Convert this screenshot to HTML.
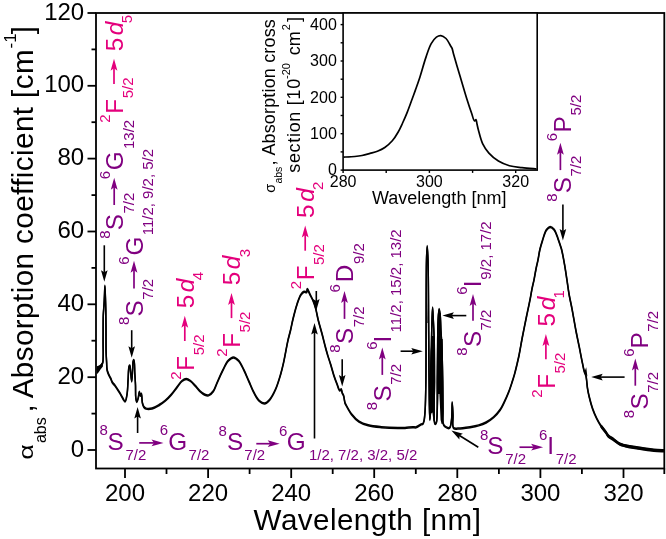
<!DOCTYPE html>
<html><head><meta charset="utf-8"><title>Absorption</title>
<style>html,body{margin:0;padding:0;background:#fff;overflow:hidden}svg{display:block;will-change:transform}</style>
</head><body>
<svg width="666" height="539" viewBox="0 0 666 539">
<g font-family='"Liberation Sans", sans-serif'>
<rect x="96" y="13" width="568.3" height="455.5" fill="none" stroke="#000" stroke-width="1.8"/>
<line x1="87.5" y1="450.0" x2="96" y2="450.0" stroke="#000" stroke-width="1.8"/>
<text x="84.2" y="456.6" font-size="24" text-anchor="end">0</text>
<line x1="91.5" y1="413.6" x2="96" y2="413.6" stroke="#000" stroke-width="1.8"/>
<line x1="87.5" y1="377.2" x2="96" y2="377.2" stroke="#000" stroke-width="1.8"/>
<text x="84.2" y="383.8" font-size="24" text-anchor="end">20</text>
<line x1="91.5" y1="340.7" x2="96" y2="340.7" stroke="#000" stroke-width="1.8"/>
<line x1="87.5" y1="304.3" x2="96" y2="304.3" stroke="#000" stroke-width="1.8"/>
<text x="84.2" y="310.9" font-size="24" text-anchor="end">40</text>
<line x1="91.5" y1="267.9" x2="96" y2="267.9" stroke="#000" stroke-width="1.8"/>
<line x1="87.5" y1="231.5" x2="96" y2="231.5" stroke="#000" stroke-width="1.8"/>
<text x="84.2" y="238.1" font-size="24" text-anchor="end">60</text>
<line x1="91.5" y1="195.1" x2="96" y2="195.1" stroke="#000" stroke-width="1.8"/>
<line x1="87.5" y1="158.6" x2="96" y2="158.6" stroke="#000" stroke-width="1.8"/>
<text x="84.2" y="165.2" font-size="24" text-anchor="end">80</text>
<line x1="91.5" y1="122.2" x2="96" y2="122.2" stroke="#000" stroke-width="1.8"/>
<line x1="87.5" y1="85.8" x2="96" y2="85.8" stroke="#000" stroke-width="1.8"/>
<text x="84.2" y="92.4" font-size="24" text-anchor="end">100</text>
<line x1="91.5" y1="49.4" x2="96" y2="49.4" stroke="#000" stroke-width="1.8"/>
<line x1="87.5" y1="13.0" x2="96" y2="13.0" stroke="#000" stroke-width="1.8"/>
<text x="84.2" y="19.6" font-size="24" text-anchor="end">120</text>
<line x1="125.0" y1="468.5" x2="125.0" y2="478.0" stroke="#000" stroke-width="1.8"/>
<text x="125.0" y="501.3" font-size="24" text-anchor="middle">200</text>
<line x1="166.5" y1="468.5" x2="166.5" y2="474.0" stroke="#000" stroke-width="1.8"/>
<line x1="208.1" y1="468.5" x2="208.1" y2="478.0" stroke="#000" stroke-width="1.8"/>
<text x="208.1" y="501.3" font-size="24" text-anchor="middle">220</text>
<line x1="249.6" y1="468.5" x2="249.6" y2="474.0" stroke="#000" stroke-width="1.8"/>
<line x1="291.2" y1="468.5" x2="291.2" y2="478.0" stroke="#000" stroke-width="1.8"/>
<text x="291.2" y="501.3" font-size="24" text-anchor="middle">240</text>
<line x1="332.7" y1="468.5" x2="332.7" y2="474.0" stroke="#000" stroke-width="1.8"/>
<line x1="374.2" y1="468.5" x2="374.2" y2="478.0" stroke="#000" stroke-width="1.8"/>
<text x="374.2" y="501.3" font-size="24" text-anchor="middle">260</text>
<line x1="415.8" y1="468.5" x2="415.8" y2="474.0" stroke="#000" stroke-width="1.8"/>
<line x1="457.3" y1="468.5" x2="457.3" y2="478.0" stroke="#000" stroke-width="1.8"/>
<text x="457.3" y="501.3" font-size="24" text-anchor="middle">280</text>
<line x1="498.9" y1="468.5" x2="498.9" y2="474.0" stroke="#000" stroke-width="1.8"/>
<line x1="540.4" y1="468.5" x2="540.4" y2="478.0" stroke="#000" stroke-width="1.8"/>
<text x="540.4" y="501.3" font-size="24" text-anchor="middle">300</text>
<line x1="581.9" y1="468.5" x2="581.9" y2="474.0" stroke="#000" stroke-width="1.8"/>
<line x1="623.5" y1="468.5" x2="623.5" y2="478.0" stroke="#000" stroke-width="1.8"/>
<text x="623.5" y="501.3" font-size="24" text-anchor="middle">320</text>
<line x1="664.3" y1="468.5" x2="664.3" y2="474.0" stroke="#000" stroke-width="1.8"/>
<text x="253.6" y="529.6" font-size="29.6" letter-spacing="0.45">Wavelength [nm]</text>
<path fill="none" stroke="#000" stroke-width="1.5" stroke-linejoin="round" transform="translate(0,-0.5)" d="M96.80,370.00 C97.08,369.70 97.90,368.80 98.50,368.20 C99.13,367.57 99.92,367.00 100.50,366.30 C101.08,365.60 101.59,364.69 102.00,364.00 C102.32,363.45 102.58,363.34 102.80,362.50 C103.58,359.46 103.02,347.70 103.10,340.00 C103.19,331.89 103.05,321.45 103.30,315.00 C103.46,310.91 103.80,308.33 104.00,305.00 C104.20,301.67 104.35,298.27 104.50,295.00 C104.65,291.84 104.76,285.70 104.90,285.70 C105.06,285.70 105.25,293.10 105.40,297.00 C105.56,301.18 105.70,305.20 105.80,310.00 C105.92,315.95 105.95,323.17 106.00,330.00 C106.05,337.16 105.94,346.10 106.10,352.00 C106.21,355.98 106.42,358.85 106.60,362.00 C106.76,364.82 106.64,367.69 107.10,370.00 C107.47,371.86 108.15,373.43 108.80,374.90 C109.37,376.19 110.11,377.17 110.70,378.40 C111.32,379.70 111.66,381.28 112.40,382.50 C113.11,383.67 114.02,384.27 115.00,385.60 C116.57,387.73 118.84,391.54 120.60,394.30 C122.19,396.78 124.01,401.57 125.10,401.40 C126.15,401.24 126.61,396.76 127.10,393.80 C127.76,389.81 127.76,384.18 128.10,379.50 C128.43,374.99 128.36,367.82 129.10,366.20 C129.30,365.76 129.60,365.43 129.80,365.50 C130.31,365.67 130.32,369.63 130.60,372.00 C130.94,374.87 131.38,381.51 131.70,381.50 C132.05,381.49 132.34,373.59 132.60,370.00 C132.83,366.84 132.63,362.55 133.20,361.10 C133.41,360.55 133.78,360.03 134.00,360.10 C134.72,360.33 134.54,369.12 134.80,373.40 C135.04,377.40 135.33,381.03 135.50,385.00 C135.67,389.18 135.39,394.84 135.80,397.90 C136.03,399.63 136.39,401.88 136.80,401.90 C137.22,401.92 137.90,399.40 138.30,397.90 C138.78,396.08 138.90,391.72 139.30,391.70 C139.62,391.68 139.98,395.76 140.40,395.80 C140.71,395.83 141.12,393.75 141.40,393.80 C141.96,393.90 141.83,400.59 142.40,403.00 C142.79,404.64 143.18,406.03 143.90,407.00 C144.46,407.76 145.05,408.29 146.00,408.60 C147.43,409.07 149.96,408.99 152.00,408.50 C154.35,407.94 156.96,406.32 159.20,405.00 C161.34,403.74 163.27,402.42 165.20,400.80 C167.28,399.06 169.27,397.00 171.20,394.80 C173.28,392.43 175.30,389.42 177.20,387.00 C178.88,384.86 180.29,382.36 182.00,381.00 C183.33,379.94 184.79,379.01 186.20,379.00 C187.62,378.99 189.11,380.03 190.50,381.00 C192.16,382.16 193.74,384.12 195.30,385.80 C196.91,387.52 198.33,389.66 200.00,391.20 C201.54,392.62 203.31,394.13 204.90,394.80 C206.13,395.32 207.30,395.74 208.50,395.40 C210.09,394.95 212.00,392.95 213.30,391.20 C214.73,389.28 215.25,386.95 216.50,384.20 C218.29,380.28 220.86,374.09 223.00,369.90 C224.75,366.48 226.17,362.93 228.20,360.80 C229.76,359.17 231.67,357.50 233.40,357.50 C235.13,357.50 237.04,359.17 238.60,360.80 C240.63,362.93 242.15,366.63 243.80,369.90 C245.63,373.51 247.26,377.71 249.00,381.60 C250.73,385.48 252.31,389.78 254.20,393.20 C255.82,396.13 257.42,399.24 259.40,401.00 C260.95,402.38 262.84,403.74 264.50,403.60 C266.27,403.45 268.09,401.53 269.70,399.70 C271.89,397.21 273.87,393.16 275.60,389.30 C277.58,384.88 279.24,379.10 280.60,374.50 C281.76,370.56 282.56,367.11 283.40,363.40 C284.23,359.71 284.87,356.01 285.60,352.30 C286.33,348.58 286.97,344.81 287.80,341.10 C288.63,337.38 289.73,333.70 290.60,330.00 C291.46,326.33 292.04,322.89 293.00,319.00 C294.10,314.53 295.47,308.98 296.90,304.70 C298.11,301.09 299.30,297.18 300.80,294.90 C301.78,293.41 302.90,292.02 304.00,291.70 C304.85,291.46 306.04,292.65 306.60,292.30 C307.22,291.91 306.89,289.15 307.30,289.10 C307.85,289.03 308.99,292.47 309.90,294.30 C310.91,296.34 312.16,298.50 313.10,300.80 C314.11,303.25 314.91,305.73 315.70,308.60 C316.64,312.02 317.21,315.99 318.20,320.00 C319.33,324.56 320.95,329.79 322.20,334.50 C323.38,338.95 324.47,343.68 325.50,347.50 C326.31,350.52 326.98,352.88 327.80,355.60 C328.64,358.38 329.58,361.01 330.50,364.00 C331.54,367.39 332.57,371.45 333.70,374.90 C334.74,378.09 335.90,381.24 337.00,384.00 C337.94,386.36 338.88,390.29 339.80,390.50 C340.27,390.61 340.83,389.19 341.20,389.30 C341.73,389.46 341.77,391.87 342.20,393.00 C342.59,394.02 343.20,394.62 343.60,395.80 C344.22,397.61 344.45,401.37 345.00,403.00 C345.31,403.90 345.51,404.10 346.00,405.00 C347.08,406.96 349.32,411.42 351.50,414.20 C353.66,416.95 356.16,419.74 359.00,421.60 C361.75,423.40 364.81,424.38 368.20,425.30 C372.10,426.35 376.58,426.74 381.20,427.20 C386.41,427.72 393.50,428.04 397.90,428.10 C400.76,428.14 402.58,428.04 405.00,427.90 C407.54,427.75 410.75,427.26 412.80,427.20 C414.13,427.16 414.93,427.60 416.10,427.30 C417.65,426.91 419.84,424.90 421.10,424.40 C421.79,424.13 422.35,424.39 422.80,424.00 C423.41,423.47 423.67,422.33 424.00,421.00 C424.59,418.61 424.81,414.99 425.10,410.60 C425.59,403.09 425.73,391.45 425.90,380.00 C426.12,365.37 426.01,348.07 426.10,330.00 C426.20,308.62 426.10,274.42 426.50,260.00 C426.68,253.55 426.95,246.00 427.20,246.00 C427.45,246.00 427.79,253.70 428.00,260.00 C428.44,273.03 428.44,301.78 428.60,320.00 C428.73,335.24 428.78,348.35 428.90,362.00 C429.01,374.98 429.11,389.35 429.30,400.00 C429.44,407.73 429.57,420.00 429.80,420.00 C429.94,420.00 430.15,415.83 430.30,412.00 C430.69,402.24 430.90,376.20 431.20,360.00 C431.47,345.79 431.67,329.54 432.00,320.00 C432.18,314.69 432.38,307.60 432.60,307.60 C432.82,307.60 433.07,315.37 433.30,320.00 C433.60,325.87 433.99,332.19 434.20,340.00 C434.49,351.04 434.40,366.38 434.50,380.00 C434.60,394.22 433.08,421.42 434.80,423.60 C435.04,423.90 435.36,423.91 435.60,423.80 C435.97,423.63 436.26,422.90 436.50,422.00 C437.09,419.80 437.05,414.90 437.20,410.00 C437.44,402.25 437.23,390.00 437.30,380.00 C437.37,370.00 437.47,360.00 437.60,350.00 C437.73,340.00 437.70,327.54 438.10,320.00 C438.35,315.43 438.67,309.02 439.10,309.00 C439.42,308.99 439.92,312.54 440.20,315.00 C440.64,318.86 440.63,325.00 440.90,330.00 C441.17,335.00 441.54,338.95 441.80,345.00 C442.20,354.23 442.50,368.78 442.70,380.00 C442.89,390.38 442.90,401.95 443.00,410.00 C443.07,415.42 442.38,420.80 443.20,423.60 C443.61,425.00 444.09,425.80 445.00,426.50 C446.07,427.33 448.43,428.50 449.50,427.90 C450.91,427.11 451.04,423.19 451.50,420.00 C452.18,415.28 451.92,402.20 452.20,402.20 C452.44,402.20 452.78,410.72 453.00,415.00 C453.22,419.32 451.84,426.18 453.50,428.00 C454.48,429.08 456.14,428.58 458.00,428.60 C461.04,428.62 466.33,427.79 470.00,427.20 C473.14,426.69 475.95,426.22 478.70,425.40 C481.30,424.63 483.70,423.78 486.10,422.50 C488.67,421.13 491.29,419.35 493.60,417.30 C496.01,415.15 498.44,412.32 500.20,409.80 C501.73,407.61 502.56,405.71 503.80,403.20 C505.37,400.01 507.30,395.66 508.70,392.10 C509.96,388.89 510.90,385.90 511.90,382.80 C512.89,379.73 513.85,376.69 514.70,373.60 C515.55,370.52 516.27,367.36 517.00,364.30 C517.70,361.33 518.29,358.94 519.00,355.50 C519.99,350.67 521.05,344.02 522.20,338.00 C523.43,331.55 524.85,324.60 526.20,318.00 C527.52,311.53 529.14,304.23 530.20,298.80 C530.98,294.81 531.43,291.74 532.10,288.40 C532.73,285.29 533.47,282.51 534.10,279.40 C534.77,276.06 535.33,272.35 536.00,269.00 C536.63,265.86 537.37,263.04 538.00,259.90 C538.67,256.55 539.12,252.83 539.90,249.50 C540.64,246.35 541.47,243.51 542.50,240.40 C543.61,237.03 544.76,232.32 546.40,230.00 C547.48,228.47 548.82,226.97 550.10,226.90 C551.36,226.83 552.86,228.14 554.00,229.50 C555.64,231.45 556.78,235.53 557.90,238.40 C558.92,241.01 559.81,243.86 560.50,246.00 C560.99,247.54 561.26,248.23 561.70,250.00 C562.53,253.36 563.73,259.85 564.60,264.80 C565.47,269.75 566.15,274.74 566.90,279.70 C567.65,284.64 568.24,289.58 569.10,294.50 C569.97,299.44 571.08,303.95 572.10,309.30 C573.30,315.62 574.55,323.48 575.80,330.00 C576.92,335.87 578.08,341.13 579.20,346.70 C580.32,352.27 581.54,358.83 582.50,363.40 C583.17,366.59 583.62,369.21 584.30,371.50 C584.82,373.24 585.60,374.44 586.00,376.00 C586.41,377.60 586.47,379.17 586.70,381.00 C586.98,383.22 587.11,385.86 587.50,388.40 C587.92,391.12 588.47,393.78 589.20,396.80 C590.07,400.39 591.20,404.79 592.50,408.50 C593.72,412.00 595.19,415.45 596.70,418.50 C598.05,421.22 599.43,423.64 601.00,426.00 C602.53,428.30 604.68,430.64 606.00,432.50 C606.94,433.83 607.24,434.93 608.30,436.00 C609.60,437.31 611.70,438.24 613.50,439.50 C615.49,440.89 617.25,442.83 619.70,444.00 C622.60,445.39 626.46,446.06 630.00,446.80 C633.68,447.57 637.51,447.95 641.40,448.50 C645.47,449.08 649.95,449.81 653.90,450.20 C657.44,450.55 662.32,450.70 664.00,450.80"/>
<path fill="none" stroke="#000" stroke-width="1.5" stroke-linejoin="round" transform="translate(0,0.5)" d="M96.80,370.00 C97.08,369.70 97.90,368.80 98.50,368.20 C99.13,367.57 99.92,367.00 100.50,366.30 C101.08,365.60 101.59,364.69 102.00,364.00 C102.32,363.45 102.58,363.34 102.80,362.50 C103.58,359.46 103.02,347.70 103.10,340.00 C103.19,331.89 103.05,321.45 103.30,315.00 C103.46,310.91 103.80,308.33 104.00,305.00 C104.20,301.67 104.35,298.27 104.50,295.00 C104.65,291.84 104.76,285.70 104.90,285.70 C105.06,285.70 105.25,293.10 105.40,297.00 C105.56,301.18 105.70,305.20 105.80,310.00 C105.92,315.95 105.95,323.17 106.00,330.00 C106.05,337.16 105.94,346.10 106.10,352.00 C106.21,355.98 106.42,358.85 106.60,362.00 C106.76,364.82 106.64,367.69 107.10,370.00 C107.47,371.86 108.15,373.43 108.80,374.90 C109.37,376.19 110.11,377.17 110.70,378.40 C111.32,379.70 111.66,381.28 112.40,382.50 C113.11,383.67 114.02,384.27 115.00,385.60 C116.57,387.73 118.84,391.54 120.60,394.30 C122.19,396.78 124.01,401.57 125.10,401.40 C126.15,401.24 126.61,396.76 127.10,393.80 C127.76,389.81 127.76,384.18 128.10,379.50 C128.43,374.99 128.36,367.82 129.10,366.20 C129.30,365.76 129.60,365.43 129.80,365.50 C130.31,365.67 130.32,369.63 130.60,372.00 C130.94,374.87 131.38,381.51 131.70,381.50 C132.05,381.49 132.34,373.59 132.60,370.00 C132.83,366.84 132.63,362.55 133.20,361.10 C133.41,360.55 133.78,360.03 134.00,360.10 C134.72,360.33 134.54,369.12 134.80,373.40 C135.04,377.40 135.33,381.03 135.50,385.00 C135.67,389.18 135.39,394.84 135.80,397.90 C136.03,399.63 136.39,401.88 136.80,401.90 C137.22,401.92 137.90,399.40 138.30,397.90 C138.78,396.08 138.90,391.72 139.30,391.70 C139.62,391.68 139.98,395.76 140.40,395.80 C140.71,395.83 141.12,393.75 141.40,393.80 C141.96,393.90 141.83,400.59 142.40,403.00 C142.79,404.64 143.18,406.03 143.90,407.00 C144.46,407.76 145.05,408.29 146.00,408.60 C147.43,409.07 149.96,408.99 152.00,408.50 C154.35,407.94 156.96,406.32 159.20,405.00 C161.34,403.74 163.27,402.42 165.20,400.80 C167.28,399.06 169.27,397.00 171.20,394.80 C173.28,392.43 175.30,389.42 177.20,387.00 C178.88,384.86 180.29,382.36 182.00,381.00 C183.33,379.94 184.79,379.01 186.20,379.00 C187.62,378.99 189.11,380.03 190.50,381.00 C192.16,382.16 193.74,384.12 195.30,385.80 C196.91,387.52 198.33,389.66 200.00,391.20 C201.54,392.62 203.31,394.13 204.90,394.80 C206.13,395.32 207.30,395.74 208.50,395.40 C210.09,394.95 212.00,392.95 213.30,391.20 C214.73,389.28 215.25,386.95 216.50,384.20 C218.29,380.28 220.86,374.09 223.00,369.90 C224.75,366.48 226.17,362.93 228.20,360.80 C229.76,359.17 231.67,357.50 233.40,357.50 C235.13,357.50 237.04,359.17 238.60,360.80 C240.63,362.93 242.15,366.63 243.80,369.90 C245.63,373.51 247.26,377.71 249.00,381.60 C250.73,385.48 252.31,389.78 254.20,393.20 C255.82,396.13 257.42,399.24 259.40,401.00 C260.95,402.38 262.84,403.74 264.50,403.60 C266.27,403.45 268.09,401.53 269.70,399.70 C271.89,397.21 273.87,393.16 275.60,389.30 C277.58,384.88 279.24,379.10 280.60,374.50 C281.76,370.56 282.56,367.11 283.40,363.40 C284.23,359.71 284.87,356.01 285.60,352.30 C286.33,348.58 286.97,344.81 287.80,341.10 C288.63,337.38 289.73,333.70 290.60,330.00 C291.46,326.33 292.04,322.89 293.00,319.00 C294.10,314.53 295.47,308.98 296.90,304.70 C298.11,301.09 299.30,297.18 300.80,294.90 C301.78,293.41 302.90,292.02 304.00,291.70 C304.85,291.46 306.04,292.65 306.60,292.30 C307.22,291.91 306.89,289.15 307.30,289.10 C307.85,289.03 308.99,292.47 309.90,294.30 C310.91,296.34 312.16,298.50 313.10,300.80 C314.11,303.25 314.91,305.73 315.70,308.60 C316.64,312.02 317.21,315.99 318.20,320.00 C319.33,324.56 320.95,329.79 322.20,334.50 C323.38,338.95 324.47,343.68 325.50,347.50 C326.31,350.52 326.98,352.88 327.80,355.60 C328.64,358.38 329.58,361.01 330.50,364.00 C331.54,367.39 332.57,371.45 333.70,374.90 C334.74,378.09 335.90,381.24 337.00,384.00 C337.94,386.36 338.88,390.29 339.80,390.50 C340.27,390.61 340.83,389.19 341.20,389.30 C341.73,389.46 341.77,391.87 342.20,393.00 C342.59,394.02 343.20,394.62 343.60,395.80 C344.22,397.61 344.45,401.37 345.00,403.00 C345.31,403.90 345.51,404.10 346.00,405.00 C347.08,406.96 349.32,411.42 351.50,414.20 C353.66,416.95 356.16,419.74 359.00,421.60 C361.75,423.40 364.81,424.38 368.20,425.30 C372.10,426.35 376.58,426.74 381.20,427.20 C386.41,427.72 393.50,428.04 397.90,428.10 C400.76,428.14 402.58,428.04 405.00,427.90 C407.54,427.75 410.75,427.26 412.80,427.20 C414.13,427.16 414.93,427.60 416.10,427.30 C417.65,426.91 419.84,424.90 421.10,424.40 C421.79,424.13 422.35,424.39 422.80,424.00 C423.41,423.47 423.67,422.33 424.00,421.00 C424.59,418.61 424.81,414.99 425.10,410.60 C425.59,403.09 425.73,391.45 425.90,380.00 C426.12,365.37 426.01,348.07 426.10,330.00 C426.20,308.62 426.10,274.42 426.50,260.00 C426.68,253.55 426.95,246.00 427.20,246.00 C427.45,246.00 427.79,253.70 428.00,260.00 C428.44,273.03 428.44,301.78 428.60,320.00 C428.73,335.24 428.78,348.35 428.90,362.00 C429.01,374.98 429.11,389.35 429.30,400.00 C429.44,407.73 429.57,420.00 429.80,420.00 C429.94,420.00 430.15,415.83 430.30,412.00 C430.69,402.24 430.90,376.20 431.20,360.00 C431.47,345.79 431.67,329.54 432.00,320.00 C432.18,314.69 432.38,307.60 432.60,307.60 C432.82,307.60 433.07,315.37 433.30,320.00 C433.60,325.87 433.99,332.19 434.20,340.00 C434.49,351.04 434.40,366.38 434.50,380.00 C434.60,394.22 433.08,421.42 434.80,423.60 C435.04,423.90 435.36,423.91 435.60,423.80 C435.97,423.63 436.26,422.90 436.50,422.00 C437.09,419.80 437.05,414.90 437.20,410.00 C437.44,402.25 437.23,390.00 437.30,380.00 C437.37,370.00 437.47,360.00 437.60,350.00 C437.73,340.00 437.70,327.54 438.10,320.00 C438.35,315.43 438.67,309.02 439.10,309.00 C439.42,308.99 439.92,312.54 440.20,315.00 C440.64,318.86 440.63,325.00 440.90,330.00 C441.17,335.00 441.54,338.95 441.80,345.00 C442.20,354.23 442.50,368.78 442.70,380.00 C442.89,390.38 442.90,401.95 443.00,410.00 C443.07,415.42 442.38,420.80 443.20,423.60 C443.61,425.00 444.09,425.80 445.00,426.50 C446.07,427.33 448.43,428.50 449.50,427.90 C450.91,427.11 451.04,423.19 451.50,420.00 C452.18,415.28 451.92,402.20 452.20,402.20 C452.44,402.20 452.78,410.72 453.00,415.00 C453.22,419.32 451.84,426.18 453.50,428.00 C454.48,429.08 456.14,428.58 458.00,428.60 C461.04,428.62 466.33,427.79 470.00,427.20 C473.14,426.69 475.95,426.22 478.70,425.40 C481.30,424.63 483.70,423.78 486.10,422.50 C488.67,421.13 491.29,419.35 493.60,417.30 C496.01,415.15 498.44,412.32 500.20,409.80 C501.73,407.61 502.56,405.71 503.80,403.20 C505.37,400.01 507.30,395.66 508.70,392.10 C509.96,388.89 510.90,385.90 511.90,382.80 C512.89,379.73 513.85,376.69 514.70,373.60 C515.55,370.52 516.27,367.36 517.00,364.30 C517.70,361.33 518.29,358.94 519.00,355.50 C519.99,350.67 521.05,344.02 522.20,338.00 C523.43,331.55 524.85,324.60 526.20,318.00 C527.52,311.53 529.14,304.23 530.20,298.80 C530.98,294.81 531.43,291.74 532.10,288.40 C532.73,285.29 533.47,282.51 534.10,279.40 C534.77,276.06 535.33,272.35 536.00,269.00 C536.63,265.86 537.37,263.04 538.00,259.90 C538.67,256.55 539.12,252.83 539.90,249.50 C540.64,246.35 541.47,243.51 542.50,240.40 C543.61,237.03 544.76,232.32 546.40,230.00 C547.48,228.47 548.82,226.97 550.10,226.90 C551.36,226.83 552.86,228.14 554.00,229.50 C555.64,231.45 556.78,235.53 557.90,238.40 C558.92,241.01 559.81,243.86 560.50,246.00 C560.99,247.54 561.26,248.23 561.70,250.00 C562.53,253.36 563.73,259.85 564.60,264.80 C565.47,269.75 566.15,274.74 566.90,279.70 C567.65,284.64 568.24,289.58 569.10,294.50 C569.97,299.44 571.08,303.95 572.10,309.30 C573.30,315.62 574.55,323.48 575.80,330.00 C576.92,335.87 578.08,341.13 579.20,346.70 C580.32,352.27 581.54,358.83 582.50,363.40 C583.17,366.59 583.62,369.21 584.30,371.50 C584.82,373.24 585.60,374.44 586.00,376.00 C586.41,377.60 586.47,379.17 586.70,381.00 C586.98,383.22 587.11,385.86 587.50,388.40 C587.92,391.12 588.47,393.78 589.20,396.80 C590.07,400.39 591.20,404.79 592.50,408.50 C593.72,412.00 595.19,415.45 596.70,418.50 C598.05,421.22 599.43,423.64 601.00,426.00 C602.53,428.30 604.68,430.64 606.00,432.50 C606.94,433.83 607.24,434.93 608.30,436.00 C609.60,437.31 611.70,438.24 613.50,439.50 C615.49,440.89 617.25,442.83 619.70,444.00 C622.60,445.39 626.46,446.06 630.00,446.80 C633.68,447.57 637.51,447.95 641.40,448.50 C645.47,449.08 649.95,449.81 653.90,450.20 C657.44,450.55 662.32,450.70 664.00,450.80"/>
<polygon points="96.8,366.2 99,365.4 101,364 102.9,362 102.9,366.5 100.5,369.5 98.5,372.5 96.8,374.2" fill="#000"/>
<polygon points="584.2,372.5 586.2,367.2 587.4,376.5" fill="#000"/>
<polygon points="429.4,385 430.5,352 431.8,336 434.4,336 434.6,380 434.8,423 433.4,420.5 432.4,412.5 431.3,413.5 430.2,420 429.4,412" fill="#000"/>
<polygon points="438.1,313 440.9,313 440.9,339 442.7,339 443.2,423.6 441.6,424 440.6,420 439.4,394 438.5,394 437.7,420 437.2,380 437.2,339 438.1,336" fill="#000"/>
<polygon points="427.4,323 428.8,323 428.6,312 428.0,300" fill="#000"/>
<path fill="none" stroke="#000" stroke-width="1.8" stroke-linejoin="round" transform="translate(0,-0.8)" d="M601.00,426.00 C601.83,427.08 604.68,430.64 606.00,432.50 C606.94,433.83 607.24,434.93 608.30,436.00 C609.60,437.31 611.70,438.24 613.50,439.50 C615.49,440.89 617.25,442.83 619.70,444.00 C622.60,445.39 626.46,446.06 630.00,446.80 C633.68,447.57 637.51,447.95 641.40,448.50 C645.47,449.08 649.95,449.81 653.90,450.20 C657.44,450.55 662.32,450.70 664.00,450.80"/>
<path fill="none" stroke="#000" stroke-width="1.8" stroke-linejoin="round" transform="translate(0,0.8)" d="M601.00,426.00 C601.83,427.08 604.68,430.64 606.00,432.50 C606.94,433.83 607.24,434.93 608.30,436.00 C609.60,437.31 611.70,438.24 613.50,439.50 C615.49,440.89 617.25,442.83 619.70,444.00 C622.60,445.39 626.46,446.06 630.00,446.80 C633.68,447.57 637.51,447.95 641.40,448.50 C645.47,449.08 649.95,449.81 653.90,450.20 C657.44,450.55 662.32,450.70 664.00,450.80"/>
<rect x="343.1" y="13" width="194.10000000000002" height="157.1" fill="#fff" stroke="#000" stroke-width="1.6"/>
<line x1="340.6" y1="170.1" x2="343.1" y2="170.1" stroke="#000" stroke-width="1.4"/>
<text x="336.8" y="175.3" font-size="16" text-anchor="end">0</text>
<line x1="340.6" y1="151.9" x2="343.1" y2="151.9" stroke="#000" stroke-width="1.4"/>
<line x1="340.6" y1="133.7" x2="343.1" y2="133.7" stroke="#000" stroke-width="1.4"/>
<text x="336.8" y="138.9" font-size="16" text-anchor="end">100</text>
<line x1="340.6" y1="115.5" x2="343.1" y2="115.5" stroke="#000" stroke-width="1.4"/>
<line x1="340.6" y1="97.3" x2="343.1" y2="97.3" stroke="#000" stroke-width="1.4"/>
<text x="336.8" y="102.5" font-size="16" text-anchor="end">200</text>
<line x1="340.6" y1="79.2" x2="343.1" y2="79.2" stroke="#000" stroke-width="1.4"/>
<line x1="340.6" y1="61.0" x2="343.1" y2="61.0" stroke="#000" stroke-width="1.4"/>
<text x="336.8" y="66.2" font-size="16" text-anchor="end">300</text>
<line x1="340.6" y1="42.8" x2="343.1" y2="42.8" stroke="#000" stroke-width="1.4"/>
<line x1="340.6" y1="24.6" x2="343.1" y2="24.6" stroke="#000" stroke-width="1.4"/>
<text x="336.8" y="29.8" font-size="16" text-anchor="end">400</text>
<line x1="343.1" y1="170.1" x2="343.1" y2="172.9" stroke="#000" stroke-width="1.4"/>
<text x="343.1" y="186.5" font-size="16" text-anchor="middle">280</text>
<line x1="386.2" y1="170.1" x2="386.2" y2="172.9" stroke="#000" stroke-width="1.4"/>
<line x1="429.4" y1="170.1" x2="429.4" y2="172.9" stroke="#000" stroke-width="1.4"/>
<text x="429.4" y="186.5" font-size="16" text-anchor="middle">300</text>
<line x1="472.6" y1="170.1" x2="472.6" y2="172.9" stroke="#000" stroke-width="1.4"/>
<line x1="515.7" y1="170.1" x2="515.7" y2="172.9" stroke="#000" stroke-width="1.4"/>
<text x="515.7" y="186.5" font-size="16" text-anchor="middle">320</text>
<text x="372" y="204" font-size="18">Wavelength [nm]</text>
<path fill="none" stroke="#000" stroke-width="1.7" stroke-linejoin="round" d="M343.50,157.10 C345.38,157.00 351.46,156.82 354.80,156.50 C357.48,156.24 359.55,155.99 362.00,155.50 C364.61,154.98 367.39,154.13 370.00,153.40 C372.52,152.69 374.97,152.16 377.40,151.20 C379.91,150.21 382.43,149.11 384.80,147.50 C387.42,145.72 390.09,143.34 392.30,140.80 C394.57,138.19 396.47,135.01 398.20,132.00 C399.89,129.07 401.16,126.13 402.60,123.00 C404.13,119.68 405.65,116.20 407.10,112.60 C408.63,108.81 410.09,104.61 411.50,100.80 C412.82,97.23 414.04,93.93 415.30,90.40 C416.60,86.76 417.77,83.65 419.20,79.30 C421.21,73.19 423.77,63.54 426.00,57.10 C427.76,52.04 429.16,47.27 431.20,43.70 C432.76,40.97 434.53,38.42 436.40,37.10 C437.79,36.12 439.30,35.46 440.80,35.60 C442.49,35.75 444.49,37.07 446.00,38.50 C447.78,40.19 449.31,43.71 450.40,45.50 C451.07,46.60 451.54,47.12 452.00,48.20 C452.60,49.62 452.83,51.33 453.40,53.40 C454.26,56.50 455.47,60.79 456.70,65.00 C458.18,70.07 460.03,76.13 461.70,81.70 C463.37,87.27 464.99,92.99 466.70,98.40 C468.33,103.57 470.24,109.35 471.70,113.50 C472.74,116.44 473.54,120.79 474.50,121.00 C474.99,121.11 475.61,119.39 476.00,119.50 C476.57,119.67 476.63,122.39 477.00,124.00 C477.42,125.86 477.75,127.61 478.40,130.00 C479.38,133.63 480.70,139.59 482.60,143.60 C484.30,147.19 486.34,150.25 488.90,153.10 C491.57,156.07 494.95,158.89 498.40,161.00 C501.79,163.07 505.54,164.60 509.40,165.70 C513.39,166.83 517.64,167.08 522.00,167.60 C526.66,168.16 534.08,168.68 536.50,168.90"/>
<line x1="104.30" y1="245.30" x2="104.30" y2="272.70" stroke="#000" stroke-width="1.6"/>
<polygon points="104.30,281.70 101.00,270.20 104.30,272.20 107.60,270.20" fill="#000"/>
<line x1="131.70" y1="330.20" x2="131.70" y2="348.70" stroke="#000" stroke-width="1.6"/>
<polygon points="131.70,357.70 128.40,346.20 131.70,348.20 135.00,346.20" fill="#000"/>
<line x1="137.60" y1="433.00" x2="137.60" y2="416.00" stroke="#000" stroke-width="1.6"/>
<polygon points="137.60,407.00 140.90,418.50 137.60,416.50 134.30,418.50" fill="#000"/>
<line x1="314.50" y1="438.50" x2="314.50" y2="331.90" stroke="#000" stroke-width="1.6"/>
<polygon points="314.50,322.90 317.80,334.40 314.50,332.40 311.20,334.40" fill="#000"/>
<line x1="316.30" y1="291.00" x2="316.30" y2="301.50" stroke="#000" stroke-width="1.6"/>
<polygon points="316.30,310.50 313.00,299.00 316.30,301.00 319.60,299.00" fill="#000"/>
<line x1="342.20" y1="359.20" x2="342.20" y2="377.50" stroke="#000" stroke-width="1.6"/>
<polygon points="342.20,386.50 338.90,375.00 342.20,377.00 345.50,375.00" fill="#000"/>
<line x1="400.60" y1="351.20" x2="413.80" y2="351.20" stroke="#000" stroke-width="1.6"/>
<polygon points="422.80,351.20 411.30,354.50 413.30,351.20 411.30,347.90" fill="#000"/>
<line x1="466.30" y1="315.60" x2="451.40" y2="315.60" stroke="#000" stroke-width="1.6"/>
<polygon points="442.40,315.60 453.90,312.30 451.90,315.60 453.90,318.90" fill="#000"/>
<line x1="478.30" y1="447.30" x2="459.03" y2="435.27" stroke="#000" stroke-width="1.6"/>
<polygon points="451.40,430.50 462.90,433.79 459.46,435.53 459.41,439.39" fill="#000"/>
<line x1="562.90" y1="204.40" x2="562.90" y2="231.60" stroke="#000" stroke-width="1.6"/>
<polygon points="562.90,240.60 559.60,229.10 562.90,231.10 566.20,229.10" fill="#000"/>
<line x1="624.60" y1="377.10" x2="600.20" y2="377.10" stroke="#000" stroke-width="1.6"/>
<polygon points="591.20,377.10 602.70,373.80 600.70,377.10 602.70,380.40" fill="#000"/>
<text transform="translate(109.70,122.65) rotate(-90)" font-size="15" fill="#E4007C">2</text>
<text transform="translate(122.70,113.65) rotate(-90)" font-size="24.3" fill="#E4007C">F</text>
<text transform="translate(132.70,98.35) rotate(-90)" font-size="15" fill="#E4007C">5/2</text>
<line x1="114.00" y1="84.00" x2="114.00" y2="67.80" stroke="#E4007C" stroke-width="1.7"/>
<polygon points="114.00,58.80 117.40,70.80 114.00,68.30 110.60,70.80" fill="#E4007C"/>
<text transform="translate(122.70,51.20) rotate(-90)" font-size="24.3" fill="#E4007C">5</text>
<text transform="translate(122.70,35.15) rotate(-90)" font-size="24.3" fill="#E4007C" font-style="italic">d</text>
<text transform="translate(132.10,23.20) rotate(-90)" font-size="15" fill="#E4007C">5</text>
<text transform="translate(180.50,379.65) rotate(-90)" font-size="15" fill="#E4007C">2</text>
<text transform="translate(193.50,370.65) rotate(-90)" font-size="24.3" fill="#E4007C">F</text>
<text transform="translate(203.50,355.35) rotate(-90)" font-size="15" fill="#E4007C">5/2</text>
<line x1="184.80" y1="341.00" x2="184.80" y2="324.80" stroke="#E4007C" stroke-width="1.7"/>
<polygon points="184.80,315.80 188.20,327.80 184.80,325.30 181.40,327.80" fill="#E4007C"/>
<text transform="translate(193.50,308.20) rotate(-90)" font-size="24.3" fill="#E4007C">5</text>
<text transform="translate(193.50,292.15) rotate(-90)" font-size="24.3" fill="#E4007C" font-style="italic">d</text>
<text transform="translate(202.90,280.20) rotate(-90)" font-size="15" fill="#E4007C">4</text>
<text transform="translate(227.20,356.75) rotate(-90)" font-size="15" fill="#E4007C">2</text>
<text transform="translate(240.20,347.75) rotate(-90)" font-size="24.3" fill="#E4007C">F</text>
<text transform="translate(250.20,332.45) rotate(-90)" font-size="15" fill="#E4007C">5/2</text>
<line x1="231.50" y1="318.10" x2="231.50" y2="301.90" stroke="#E4007C" stroke-width="1.7"/>
<polygon points="231.50,292.90 234.90,304.90 231.50,302.40 228.10,304.90" fill="#E4007C"/>
<text transform="translate(240.20,285.30) rotate(-90)" font-size="24.3" fill="#E4007C">5</text>
<text transform="translate(240.20,269.25) rotate(-90)" font-size="24.3" fill="#E4007C" font-style="italic">d</text>
<text transform="translate(249.60,257.30) rotate(-90)" font-size="15" fill="#E4007C">3</text>
<text transform="translate(300.90,289.35) rotate(-90)" font-size="15" fill="#E4007C">2</text>
<text transform="translate(313.90,280.35) rotate(-90)" font-size="24.3" fill="#E4007C">F</text>
<text transform="translate(323.90,265.05) rotate(-90)" font-size="15" fill="#E4007C">5/2</text>
<line x1="305.20" y1="250.70" x2="305.20" y2="234.50" stroke="#E4007C" stroke-width="1.7"/>
<polygon points="305.20,225.50 308.60,237.50 305.20,235.00 301.80,237.50" fill="#E4007C"/>
<text transform="translate(313.90,217.90) rotate(-90)" font-size="24.3" fill="#E4007C">5</text>
<text transform="translate(313.90,201.85) rotate(-90)" font-size="24.3" fill="#E4007C" font-style="italic">d</text>
<text transform="translate(323.30,189.90) rotate(-90)" font-size="15" fill="#E4007C">2</text>
<text transform="translate(541.60,397.85) rotate(-90)" font-size="15" fill="#E4007C">2</text>
<text transform="translate(554.60,388.85) rotate(-90)" font-size="24.3" fill="#E4007C">F</text>
<text transform="translate(564.60,373.55) rotate(-90)" font-size="15" fill="#E4007C">5/2</text>
<line x1="545.90" y1="359.20" x2="545.90" y2="343.00" stroke="#E4007C" stroke-width="1.7"/>
<polygon points="545.90,334.00 549.30,346.00 545.90,343.50 542.50,346.00" fill="#E4007C"/>
<text transform="translate(554.60,326.40) rotate(-90)" font-size="24.3" fill="#E4007C">5</text>
<text transform="translate(554.60,310.35) rotate(-90)" font-size="24.3" fill="#E4007C" font-style="italic">d</text>
<text transform="translate(564.00,298.40) rotate(-90)" font-size="15" fill="#E4007C">1</text>
<text transform="translate(109.50,238.85) rotate(-90)" font-size="15" fill="#800080">8</text>
<text transform="translate(123.30,230.20) rotate(-90)" font-size="24.3" fill="#800080">S</text>
<text transform="translate(133.50,213.50) rotate(-90)" font-size="15" fill="#800080">7/2</text>
<line x1="114.20" y1="205.00" x2="114.20" y2="186.80" stroke="#800080" stroke-width="1.7"/>
<polygon points="114.20,177.80 117.60,189.80 114.20,187.30 110.80,189.80" fill="#800080"/>
<text transform="translate(109.50,179.27) rotate(-90)" font-size="15" fill="#800080">6</text>
<text transform="translate(123.30,170.25) rotate(-90)" font-size="24.3" fill="#800080">G</text>
<text transform="translate(133.50,149.04) rotate(-90)" font-size="15" fill="#800080">13/2</text>
<text transform="translate(128.70,325.05) rotate(-90)" font-size="15" fill="#800080">8</text>
<text transform="translate(142.50,316.40) rotate(-90)" font-size="24.3" fill="#800080">S</text>
<text transform="translate(152.70,299.70) rotate(-90)" font-size="15" fill="#800080">7/2</text>
<line x1="134.00" y1="288.50" x2="134.00" y2="269.70" stroke="#800080" stroke-width="1.7"/>
<polygon points="134.00,260.70 137.40,272.70 134.00,270.20 130.60,272.70" fill="#800080"/>
<text transform="translate(128.70,264.67) rotate(-90)" font-size="15" fill="#800080">6</text>
<text transform="translate(142.50,255.45) rotate(-90)" font-size="24.3" fill="#800080">G</text>
<text transform="translate(152.70,235.34) rotate(-90)" font-size="15" fill="#800080">11/2, 9/2, 5/2</text>
<text transform="translate(339.50,352.65) rotate(-90)" font-size="15" fill="#800080">8</text>
<text transform="translate(353.30,344.00) rotate(-90)" font-size="24.3" fill="#800080">S</text>
<text transform="translate(363.50,327.30) rotate(-90)" font-size="15" fill="#800080">7/2</text>
<line x1="344.50" y1="318.90" x2="344.50" y2="300.00" stroke="#800080" stroke-width="1.7"/>
<polygon points="344.50,291.00 347.90,303.00 344.50,300.50 341.10,303.00" fill="#800080"/>
<text transform="translate(339.50,292.57) rotate(-90)" font-size="15" fill="#800080">6</text>
<text transform="translate(353.30,282.15) rotate(-90)" font-size="24.3" fill="#800080">D</text>
<text transform="translate(363.50,264.10) rotate(-90)" font-size="15" fill="#800080">9/2</text>
<text transform="translate(377.40,410.15) rotate(-90)" font-size="15" fill="#800080">8</text>
<text transform="translate(391.20,401.50) rotate(-90)" font-size="24.3" fill="#800080">S</text>
<text transform="translate(401.40,384.80) rotate(-90)" font-size="15" fill="#800080">7/2</text>
<line x1="382.30" y1="374.90" x2="382.30" y2="356.40" stroke="#800080" stroke-width="1.7"/>
<polygon points="382.30,347.40 385.70,359.40 382.30,356.90 378.90,359.40" fill="#800080"/>
<text transform="translate(377.40,349.67) rotate(-90)" font-size="15" fill="#800080">6</text>
<text transform="translate(391.20,342.50) rotate(-90)" font-size="24.3" fill="#800080">I</text>
<text transform="translate(401.40,332.44) rotate(-90)" font-size="15" fill="#800080">11/2, 15/2, 13/2</text>
<text transform="translate(467.40,355.75) rotate(-90)" font-size="15" fill="#800080">8</text>
<text transform="translate(481.20,347.10) rotate(-90)" font-size="24.3" fill="#800080">S</text>
<text transform="translate(491.40,330.40) rotate(-90)" font-size="15" fill="#800080">7/2</text>
<line x1="473.00" y1="320.80" x2="473.00" y2="303.10" stroke="#800080" stroke-width="1.7"/>
<polygon points="473.00,294.10 476.40,306.10 473.00,303.60 469.60,306.10" fill="#800080"/>
<text transform="translate(467.40,294.87) rotate(-90)" font-size="15" fill="#800080">6</text>
<text transform="translate(481.20,287.30) rotate(-90)" font-size="24.3" fill="#800080">I</text>
<text transform="translate(491.40,279.70) rotate(-90)" font-size="15" fill="#800080">9/2, 17/2</text>
<text transform="translate(557.30,201.85) rotate(-90)" font-size="15" fill="#800080">8</text>
<text transform="translate(571.10,193.20) rotate(-90)" font-size="24.3" fill="#800080">S</text>
<text transform="translate(581.30,176.50) rotate(-90)" font-size="15" fill="#800080">7/2</text>
<line x1="560.40" y1="170.10" x2="560.40" y2="151.80" stroke="#800080" stroke-width="1.7"/>
<polygon points="560.40,142.80 563.80,154.80 560.40,152.30 557.00,154.80" fill="#800080"/>
<text transform="translate(557.30,141.37) rotate(-90)" font-size="15" fill="#800080">6</text>
<text transform="translate(571.10,132.55) rotate(-90)" font-size="24.3" fill="#800080">P</text>
<text transform="translate(581.30,115.50) rotate(-90)" font-size="15" fill="#800080">5/2</text>
<text transform="translate(633.80,418.15) rotate(-90)" font-size="15" fill="#800080">8</text>
<text transform="translate(647.60,409.50) rotate(-90)" font-size="24.3" fill="#800080">S</text>
<text transform="translate(657.80,392.80) rotate(-90)" font-size="15" fill="#800080">7/2</text>
<line x1="635.30" y1="385.70" x2="635.30" y2="367.40" stroke="#800080" stroke-width="1.7"/>
<polygon points="635.30,358.40 638.70,370.40 635.30,367.90 631.90,370.40" fill="#800080"/>
<text transform="translate(633.80,356.87) rotate(-90)" font-size="15" fill="#800080">6</text>
<text transform="translate(647.60,348.55) rotate(-90)" font-size="24.3" fill="#800080">P</text>
<text transform="translate(657.80,331.67) rotate(-90)" font-size="15" fill="#800080">7/2</text>
<text x="99.55" y="435.00" font-size="15" fill="#800080">8</text>
<text x="107.50" y="449.60" font-size="24.3" fill="#800080">S</text>
<text x="125.40" y="460.30" font-size="15" fill="#800080">7/2</text>
<line x1="139.20" y1="442.90" x2="154.50" y2="442.90" stroke="#800080" stroke-width="1.7"/>
<polygon points="163.50,442.90 151.50,446.30 154.00,442.90 151.50,439.50" fill="#800080"/>
<text x="159.80" y="435.00" font-size="15" fill="#800080">6</text>
<text x="168.25" y="449.60" font-size="24.3" fill="#800080">G</text>
<text x="188.60" y="460.30" font-size="15" fill="#800080">7/2</text>
<text x="218.45" y="436.30" font-size="15" fill="#800080">8</text>
<text x="226.90" y="450.10" font-size="24.3" fill="#800080">S</text>
<text x="244.30" y="460.30" font-size="15" fill="#800080">7/2</text>
<line x1="256.30" y1="443.70" x2="270.70" y2="443.70" stroke="#800080" stroke-width="1.7"/>
<polygon points="279.70,443.70 267.70,447.10 270.20,443.70 267.70,440.30" fill="#800080"/>
<text x="279.00" y="436.30" font-size="15" fill="#800080">6</text>
<text x="286.65" y="450.10" font-size="24.3" fill="#800080">G</text>
<text x="308.90" y="460.30" font-size="15" fill="#800080">1/2, 7/2, 3/2, 5/2</text>
<text x="479.90" y="439.60" font-size="15" fill="#800080">8</text>
<text x="487.30" y="453.80" font-size="24.3" fill="#800080">S</text>
<text x="505.20" y="464.00" font-size="15" fill="#800080">7/2</text>
<line x1="519.50" y1="447.20" x2="534.10" y2="447.20" stroke="#800080" stroke-width="1.7"/>
<polygon points="543.10,447.20 531.10,450.60 533.60,447.20 531.10,443.80" fill="#800080"/>
<text x="539.00" y="439.60" font-size="15" fill="#800080">6</text>
<text x="547.20" y="453.80" font-size="24.3" fill="#800080">I</text>
<text x="555.70" y="464.00" font-size="15" fill="#800080">7/2</text>
<text transform="translate(33.2,459.8) rotate(-90) scale(1,0.72)" font-size="27">&#945;</text>
<text transform="translate(45.90,443.10) rotate(-90)" font-size="16" fill="#000">abs</text>
<text transform="translate(33.20,412.60) rotate(-90)" font-size="29.6" fill="#000">,</text>
<text transform="translate(33.20,398.30) rotate(-90)" font-size="29.6" fill="#000" textLength="348.9" lengthAdjust="spacing">Absorption coefficient [cm</text>
<text transform="translate(15.50,48.40) rotate(-90)" font-size="17" fill="#000">-1</text>
<text transform="translate(33.20,34.20) rotate(-90)" font-size="29.6" fill="#000">]</text>
<text transform="translate(275.3,192.8) rotate(-90)" font-size="14.5">&#963;</text>
<text transform="translate(282.40,183.60) rotate(-90)" font-size="10.5" fill="#000">abs</text>
<text transform="translate(275.30,165.50) rotate(-90)" font-size="18" fill="#000">,</text>
<text transform="translate(275.30,155.60) rotate(-90)" font-size="18" fill="#000" textLength="136.4" lengthAdjust="spacing">Absorption cross</text>
<text transform="translate(300.00,172.80) rotate(-90)" font-size="18" fill="#000" textLength="94" lengthAdjust="spacing">section [10</text>
<text transform="translate(289.50,79.00) rotate(-90)" font-size="11" fill="#000">-20</text>
<text transform="translate(300.00,55.20) rotate(-90)" font-size="18" fill="#000">cm</text>
<text transform="translate(289.50,30.20) rotate(-90)" font-size="11" fill="#000">2</text>
<text transform="translate(300.00,22.00) rotate(-90)" font-size="18" fill="#000">]</text>
</g></svg>
</body></html>
